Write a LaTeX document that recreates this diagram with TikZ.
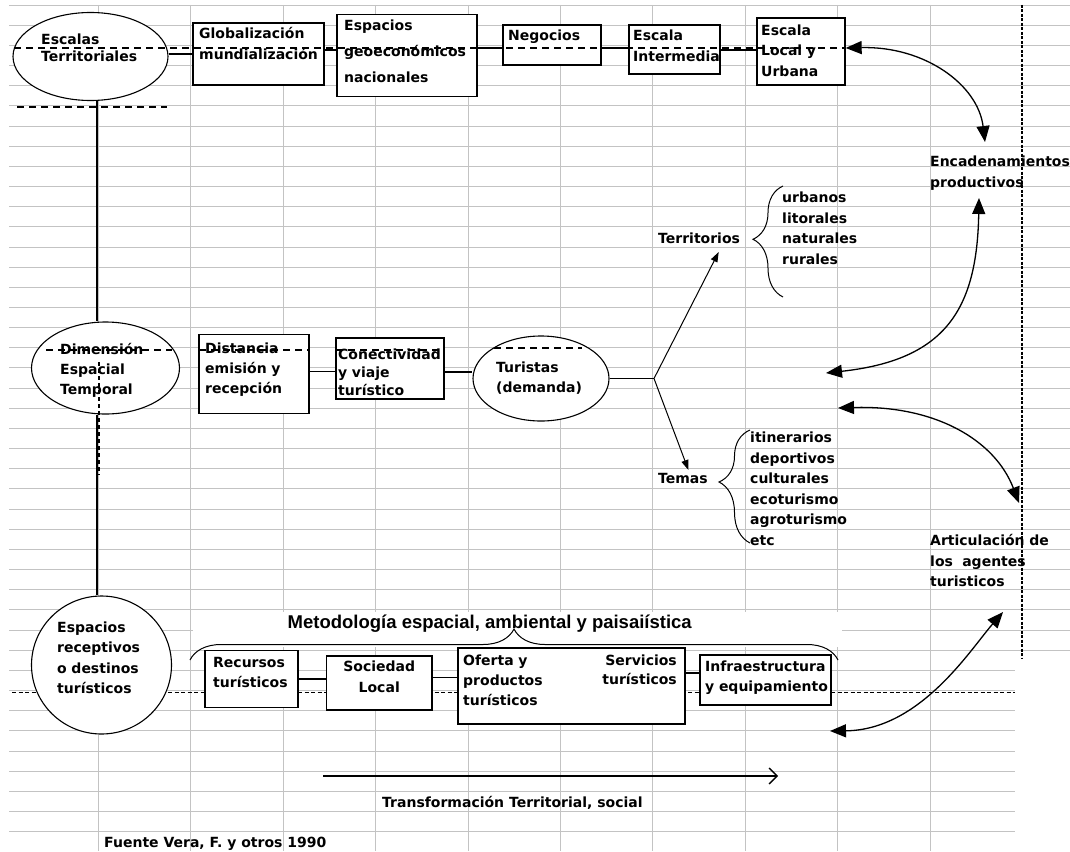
\documentclass[tikz,border=0pt]{standalone}
\usepackage{fontspec}
\setmainfont{DejaVu Sans}
\newfontfamily\metfont{Liberation Sans}
\usetikzlibrary{arrows.meta,shapes.geometric,decorations.pathreplacing}
\definecolor{gridgray}{RGB}{195,195,195}
\begin{document}
\begin{tikzpicture}[x=1pt,y=-1pt,
  gridline/.style={draw=gridgray,line width=0.8pt},
  box/.style={draw,line width=1.3pt,fill=white,rectangle,inner sep=0pt},
  oval/.style={draw,line width=1.1pt,fill=white,ellipse,inner sep=0pt},
  txtone/.style={font=\fontsize{14}{20.5}\selectfont\bfseries,inner sep=0pt,anchor=base west},
  txtm/.style={font=\fontsize{14}{20.5}\selectfont\bfseries,inner sep=0pt,align=left,text width=170pt,anchor=base west},
  conn/.style={line width=1.1pt},
  bigarrow/.style={line width=1.3pt,{Triangle[length=16pt,width=13pt]}-{Triangle[length=16pt,width=13pt]}},
  smallarrow/.style={line width=1pt,-{Triangle[length=10pt,width=7pt]}},
  dashwide/.style={dash pattern=on 7pt off 5pt,line width=1.2pt},
  dashfine/.style={dash pattern=on 4pt off 2.5pt,line width=1pt},
  bracestyle/.style={line width=1pt,decorate},
]
\fill[white] (0,0) rectangle (1070,851);
\useasboundingbox (0,0) rectangle (1070,851);

% spreadsheet grid
\foreach \k in {0,...,41}{
  \pgfmathsetmacro\yy{5+20.16*\k}
  \pgfmathsetmacro\xe{\yy<655 ? 1070 : 1015}
  \draw[gridline] (9,\yy) -- (\xe,\yy);
}
\foreach \j in {1,...,10}{
  \pgfmathsetmacro\xx{6+92.4*\j}
  \draw[gridline] (\xx,5) -- (\xx,851);
}
\fill[white] (193,612) rectangle (842,647);

% dashed lines under the shapes
\draw[dashfine] (12,692) -- (1015,692);
\draw[dash pattern=on 3pt off 1.5pt,line width=1.2pt] (1022,5) -- (1022,658);

% top row
\node[oval,minimum width=155,minimum height=88] (escalas) at (90.5,56.5) {};
\node[box,minimum width=131,minimum height=62] (glob) at (258.5,54) {};
\node[box,minimum width=140,minimum height=82] (espacios) at (407,55.5) {};
\node[box,minimum width=98,minimum height=40] (negocios) at (552,45) {};
\node[box,minimum width=91,minimum height=49] (intermedia) at (674.5,49.5) {};
\node[box,minimum width=88,minimum height=67] (local) at (801,51.5) {};

% middle row
\node[oval,minimum width=148,minimum height=92] (dimension) at (105.5,368) {};
\node[box,minimum width=110,minimum height=79] (distancia) at (254,374) {};
\node[box,minimum width=108,minimum height=61] (conect) at (390,368.5) {};
\node[oval,minimum width=136,minimum height=85] (turistas) at (541,378.5) {};

% bottom row
\node[oval,minimum width=140,minimum height=138] (receptivos) at (101.5,665) {};
\node[box,minimum width=93,minimum height=57] (recursos) at (251.5,679.3) {};
\node[box,minimum width=105.5,minimum height=54] (sociedad) at (379.25,683) {};
\node[box,minimum width=227,minimum height=76] (oferta) at (571.5,686) {};
\node[box,minimum width=131,minimum height=50] (infra) at (765.5,680) {};

% connectors
\draw[conn] (escalas.east |- 0,54) -- (glob.west |- 0,54);
\draw[conn] (glob.east |- 0,50) -- (espacios.west |- 0,50);
\draw[conn] (espacios.east |- 0,48) -- (negocios.west |- 0,48);
\draw[conn] (negocios.east |- 0,48) -- (intermedia.west |- 0,48);
\draw[conn] (intermedia.east |- 0,50) -- (local.west |- 0,50);
\coordinate (vx) at (97,0);
\draw[conn] (escalas.south -| vx) -- (dimension.north -| vx);
\draw[conn] (dimension.south -| vx) -- (receptivos.north -| vx);
\draw[conn] (distancia.east |- 0,371.6) -- (conect.west |- 0,371.6);
\draw[conn] (conect.east |- 0,372) -- (turistas.west |- 0,372);
\coordinate (branch) at (654,378.5);
\coordinate (terrtip) at (718.7,252);
\coordinate (temastip) at (688.4,470);
\draw[conn] (turistas.east) -- (branch);
\draw[smallarrow] (branch) -- (terrtip);
\draw[smallarrow] (branch) -- (temastip);
\draw[conn] (recursos.east |- 0,679) -- (sociedad.west |- 0,679);
\draw[conn] (sociedad.east |- 0,677.5) -- (oferta.west |- 0,677.5);
\draw[conn] (oferta.east |- 0,673) -- (infra.west |- 0,673);

% braces
\draw[bracestyle,decoration={brace,amplitude=30pt,aspect=0.52}] (783,297) -- (783,186);
\draw[bracestyle,decoration={brace,amplitude=31pt,aspect=0.54}] (750,543) -- (750,430);
\draw[bracestyle,decoration={brace,amplitude=31pt}] (190,660) -- (838,660);

% curved double arrows
\coordinate (a1e) at (985,142);
\draw[bigarrow] (local.east |- 0,48) .. controls (925,46) and (978,85) .. (a1e);
\coordinate (a2s) at (979,198);
\coordinate (a2e) at (826,373);
\draw[bigarrow] (a2s) .. controls (977,310) and (945,360) .. (a2e);
\coordinate (a3s) at (838,408);
\coordinate (a3e) at (1019,503);
\draw[bigarrow] (a3s) .. controls (935,405) and (995,440) .. (a3e);
\coordinate (a4s) at (1003,612);
\coordinate (a4e) at (830,731);
\draw[bigarrow] (a4s) .. controls (970,650) and (920,730) .. (a4e);

% transformation arrow
\coordinate (tr1) at (323,776);
\coordinate (tr2) at (778,776);
\draw[line width=1.3pt,-{Straight Barb[length=8pt,width=16pt]}] (tr1) -- (tr2);

% texts
\node[txtm,font=\fontsize{14}{17.2}\selectfont\bfseries] (tescalas) at (41,44.1) {Escalas\\Territoriales};
\node[txtm] (tglob) at (199,38.9) {Globalización\\mundialización};
\node[txtm,font=\fontsize{14}{26.3}\selectfont\bfseries] (tespacios) at (344,30.3) {Espacios\\geoeconómicos\\nacionales};
\node[txtone] (tnegocios) at (508,40.5) {Negocios};
\node[txtm,font=\fontsize{14}{21}\selectfont\bfseries] (tinter) at (633,40.5) {Escala\\Intermedia};
\node[txtm] (tlocal) at (761,35.5) {Escala\\Local y\\Urbana};
\node[txtm,font=\fontsize{14}{20}\selectfont\bfseries] (tdim) at (60,354.5) {Dimensión\\Espacial\\Temporal};
\node[txtm,font=\fontsize{14}{20}\selectfont\bfseries] (tdist) at (205,353.5) {Distancia\\emisión y\\recepción};
\node[txtm,font=\fontsize{14}{18}\selectfont\bfseries] (tconect) at (338,359.5) {Conectividad\\y viaje\\turístico};
\node[txtm,font=\fontsize{14}{20.3}\selectfont\bfseries] (tturistas) at (496,372.2) {Turistas\\(demanda)};
\node[txtone] (tterr) at (658,243.5) {Territorios};
\node[txtm,font=\fontsize{14}{20.6}\selectfont\bfseries] (tterrlist) at (782,202.5) {urbanos\\litorales\\naturales\\rurales};
\node[txtone] (ttemas) at (658,483.5) {Temas};
\node[txtm] (ttemaslist) at (750,442.5) {itinerarios\\deportivos\\culturales\\ecoturismo\\agroturismo\\etc};
\node[txtm] (tenc) at (930,166.5) {Encadenamientos\\productivos};
\node[txtm,font=\fontsize{14}{20.6}\selectfont\bfseries] (tart) at (930,545.5) {Articulación de\\los\ \ agentes\\turisticos};
\node[inner sep=0pt,anchor=base west,font=\metfont\fontsize{18.5}{22}\selectfont\bfseries] (tmet) at (287.5,628) {Metodología espacial, ambiental y paisaiística};
\node[txtm,font=\fontsize{14}{20.6}\selectfont\bfseries] (trecept) at (57,632) {Espacios\\receptivos\\o destinos\\turísticos};
\node[txtm,font=\fontsize{14}{20}\selectfont\bfseries] (trecursos) at (213,667) {Recursos\\turísticos};
\node[txtm,font=\fontsize{14}{21}\selectfont\bfseries,align=center,text width=105pt,anchor=base] (tsociedad) at (379.25,671.5) {Sociedad\\Local};
\node[txtm,font=\fontsize{14}{20}\selectfont\bfseries] (toferta) at (463,665.2) {Oferta y\\productos\\turísticos};
\node[txtm,font=\fontsize{14}{19.5}\selectfont\bfseries,align=right,anchor=base east] (tservicios) at (677,665.2) {Servicios\\turísticos};
\node[txtm,font=\fontsize{14}{20}\selectfont\bfseries] (tinfra) at (705,671.2) {Infraestructura\\y equipamiento};
\node[txtone] (ttrans) at (382,807.5) {Transformación Territorial, social};
\node[txtone] (tfuente) at (104,847.5) {Fuente Vera, F. y otros 1990};

% dashed lines over the shapes
\draw[dashwide] (14,48) -- (local.east |- 0,48);
\draw[dashwide] (17,107) -- (167,107);
\draw[dashwide] (46,350) -- (172,350);
\draw[dashwide] (199,350) -- (309,350);
\draw[dashwide] (336,350) -- (444,350);
\draw[dashwide] (494,348) -- (582,348);
\draw[dash pattern=on 4pt off 3pt,line width=1.5pt] (99,362) -- (99,475);
\end{tikzpicture}
\end{document}
